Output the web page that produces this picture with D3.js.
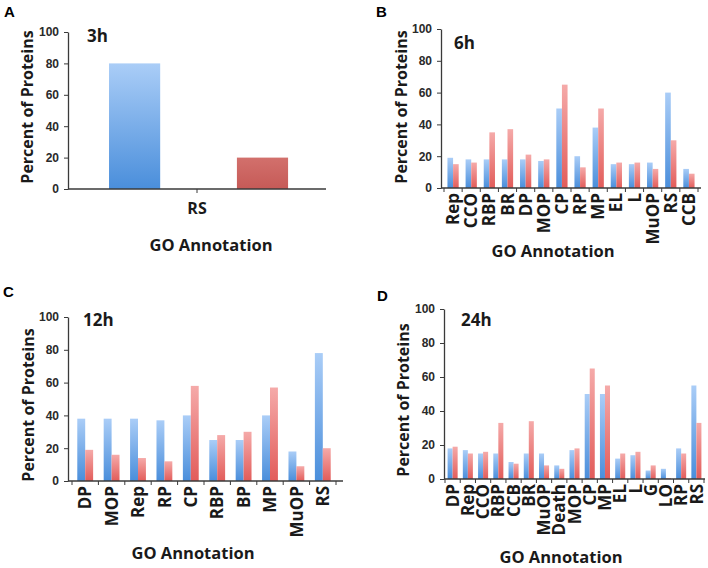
<!DOCTYPE html>
<html>
<head>
<meta charset="utf-8">
<script src="https://cdn.jsdelivr.net/npm/d3@7"></script>
<style>
  html, body { margin: 0; padding: 0; background: #fff; }
  svg { display: block; font-family: "Open Sans", "DejaVu Sans", sans-serif; }
</style>
</head>
<body>
<svg id="chart" width="708" height="568"></svg>
<script>
// ---------- data ----------
const yTicks = [0, 20, 40, 60, 80, 100];

const cats3h = ["RS"];
const blue3h = [80];
const red3h = [20];

const cats6h = ["Rep", "CCO", "RBP", "BR", "DP", "MOP", "CP", "RP", "MP", "EL", "L", "MuOP", "RS", "CCB"];
const blue6h = [19, 18, 18, 18, 18, 17, 50, 20, 38, 15, 15, 16, 60, 12];
const red6h  = [15, 16, 35, 37, 21, 18, 65, 13, 50, 16, 16, 12, 30, 9];

const cats12h = ["DP", "MOP", "Rep", "RP", "CP", "RBP", "BP", "MP", "MuOP", "RS"];
const blue12h = [38, 38, 38, 37, 40, 25, 25, 40, 18, 78];
const red12h  = [19, 16, 14, 12, 58, 28, 30, 57, 9, 20];

const cats24h = ["DP", "Rep", "CCO", "RBP", "CCB", "BR", "MuOP", "Death", "MOP", "CP", "MP", "EL", "L", "G", "LO", "RP", "RS"];
const blue24h = [18, 17, 15, 15, 10, 15, 15, 8, 17, 50, 50, 12, 14, 5, 6, 18, 55];
const red24h  = [19, 15, 16, 33, 9, 34, 8, 6, 18, 65, 55, 15, 16, 8, 0.5, 15, 33];

const panelLetters = ["A", "B", "C", "D"];
const panelTitles = ["3h", "6h", "12h", "24h"];
const yTitle = "Percent of Proteins";
const xTitle = "GO Annotation";

// ---------- drawing ----------
const svg = d3.select("#chart");
const defs = svg.append("defs");

function grad(id, top, bottom) {
  const g = defs.append("linearGradient").attr("id", id)
    .attr("x1", 0).attr("y1", 0).attr("x2", 0).attr("y2", 1);
  g.append("stop").attr("offset", "0%").attr("stop-color", top);
  g.append("stop").attr("offset", "100%").attr("stop-color", bottom);
}
grad("gBlue", "#aacdf7", "#4a8edb");
grad("gRed", "#f5aaa9", "#e25c5a");
grad("gRedA", "#d2706c", "#c65a57");

const TEXT = "#1a1a1a";
const AXIS = "#3a3a3a";

function drawPanel(p) {
  const g = svg.append("g");
  const y = d3.scaleLinear().domain([0, 100]).range([p.y0, p.y100]);
  const x = d3.scaleBand().domain(p.cats).range(p.xRange).paddingInner(0).paddingOuter(0);
  const inner = d3.scaleBand().domain(["blue", "red"])
    .range([x.bandwidth() * p.innerStart, x.bandwidth() * p.innerEnd])
    .paddingInner(p.innerPad).paddingOuter(0);

  // bars
  const rows = p.cats.map((c, i) => ({ c, blue: p.blue[i], red: p.red[i] }));
  ["blue", "red"].forEach(s => {
    g.selectAll(null).data(rows).join("rect")
      .attr("x", d => x(d.c) + inner(s))
      .attr("width", inner.bandwidth())
      .attr("y", d => y(d[s]))
      .attr("height", d => y(0) - y(d[s]))
      .attr("fill", s === "blue" ? "url(#gBlue)" : (p.redFill || "url(#gRed)"));
  });

  // y axis
  const ya = g.append("g").attr("transform", `translate(${p.axisX0},0)`)
    .call(d3.axisLeft(y).tickValues(yTicks).tickSize(4).tickSizeOuter(0).tickPadding(5));
  ya.select(".domain").attr("stroke", AXIS).attr("stroke-width", 1.3);
  ya.selectAll(".tick line").attr("stroke", AXIS);
  ya.selectAll(".tick text").attr("fill", "#2a2a2a")
    .style("font-size", "12px").style("font-weight", 700);

  // x axis line
  g.append("line").attr("x1", p.axisX0).attr("x2", p.axisX1)
    .attr("y1", y(0)).attr("y2", y(0)).attr("stroke", AXIS).attr("stroke-width", 1.3);
  // x tick marks
  const tickXs = p.centerTick ? p.cats.map(c => x(c) + x.bandwidth() / 2)
    : d3.range(p.cats.length + 1).map(i => p.xRange[0] + i * x.step());
  g.selectAll(null).data(tickXs).join("line")
    .attr("x1", d => d).attr("x2", d => d)
    .attr("y1", y(0)).attr("y2", y(0) + 4)
    .attr("stroke", AXIS).attr("stroke-width", 1);

  // x category labels
  if (p.horizontalLabels) {
    g.selectAll(null).data(p.cats).join("text")
      .attr("x", d => x(d) + x.bandwidth() / 2).attr("y", p.labelY)
      .attr("text-anchor", "middle").attr("fill", TEXT)
      .style("font-size", "16px").style("font-weight", 700)
      .text(d => d);
  } else {
    g.selectAll(null).data(p.cats).join("text")
      .attr("transform", d => `translate(${x(d) + x.bandwidth() / 2},${y(0) + 5}) rotate(-90)`)
      .attr("text-anchor", "end").attr("dy", "0.36em").attr("fill", TEXT)
      .style("font-size", "17px").style("font-weight", 700)
      .text(d => d);
  }

  // titles
  g.append("text").attr("x", p.letter[0]).attr("y", p.letter[1])
    .attr("fill", "#000").style("font-family", "Liberation Sans, Arial, sans-serif")
    .style("font-size", "15px").style("font-weight", 700).text(p.letterText);
  g.append("text").attr("x", p.title[0]).attr("y", p.title[1])
    .attr("fill", TEXT).style("font-size", "17px").style("font-weight", 700).text(p.titleText);
  g.append("text")
    .attr("transform", `translate(${p.yTitle[0]},${p.yTitle[1]}) rotate(-90)`)
    .attr("text-anchor", "middle").attr("dy", "0.35em").attr("fill", TEXT)
    .style("font-size", "16px").style("font-weight", 700).text(yTitle);
  g.append("text").attr("x", p.xTitle[0]).attr("y", p.xTitle[1])
    .attr("text-anchor", "middle").attr("fill", TEXT)
    .style("font-size", "16.5px").style("font-weight", 700).text(xTitle);
}

drawPanel({
  cats: cats3h, blue: blue3h, red: red3h,
  y0: 189, y100: 32, axisX0: 68, axisX1: 326, xRange: [68, 326],
  innerStart: 0.159, innerEnd: 0.853, innerPad: 0.6, redFill: "url(#gRedA)",
  centerTick: true, horizontalLabels: true, labelY: 214,
  letter: [4, 17], letterText: panelLetters[0],
  title: [87, 42], titleText: panelTitles[0],
  yTitle: [27, 107], xTitle: [211, 251]
});

drawPanel({
  cats: cats6h, blue: blue6h, red: red6h,
  y0: 188, y100: 29, axisX0: 441, axisX1: 701, xRange: [444, 698],
  innerStart: 0.19, innerEnd: 0.81, innerPad: 0,
  letter: [376, 17], letterText: panelLetters[1],
  title: [454, 49], titleText: panelTitles[1],
  yTitle: [401, 107], xTitle: [553, 257]
});

drawPanel({
  cats: cats12h, blue: blue12h, red: red12h,
  y0: 481, y100: 317, axisX0: 68, axisX1: 343, xRange: [72, 336],
  innerStart: 0.2, innerEnd: 0.8, innerPad: 0,
  letter: [3, 297], letterText: panelLetters[2],
  title: [83, 326], titleText: panelTitles[2],
  yTitle: [28, 405], xTitle: [193, 559]
});

drawPanel({
  cats: cats24h, blue: blue24h, red: red24h,
  y0: 479, y100: 309, axisX0: 444, axisX1: 705, xRange: [445, 704],
  innerStart: 0.17, innerEnd: 0.83, innerPad: 0,
  letter: [377, 301], letterText: panelLetters[3],
  title: [461, 326], titleText: panelTitles[3],
  yTitle: [403, 400], xTitle: [561, 563]
});
</script>
</body>
</html>
